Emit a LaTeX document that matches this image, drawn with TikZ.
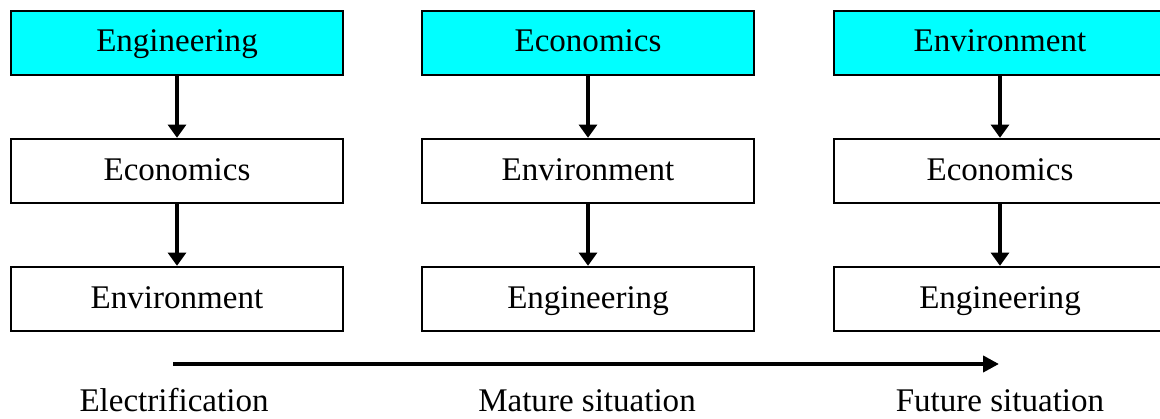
\documentclass[tikz,border=0pt]{standalone}
\usepackage{fontspec}
\setmainfont{Liberation Serif}
\usetikzlibrary{arrows.meta}
\definecolor{boxcyan}{RGB}{0,255,255}

\begin{document}
\begin{tikzpicture}[x=0.025cm,y=-0.025cm,
  box/.style={draw=black,line width=1.7pt,minimum width=8.3cm,minimum height=1.6cm,
    inner sep=0pt,text height=0.6cm,text depth=0.15cm,font=\fontsize{23.5}{28}\selectfont},
  topbox/.style={box,fill=boxcyan},
  wide/.style={minimum width=8.6cm,execute at begin node={\hspace*{-0.3cm}}},
  flow/.style={line width=2.2pt,-{Triangle[length=0.33cm,width=0.45cm]}},
  time/.style={line width=2.8pt,-{Triangle[length=0.4cm,width=0.4cm]}},
  stage/.style={font=\fontsize{23.5}{28}\selectfont,anchor=base}]
\useasboundingbox (0,0) rectangle (1160,419);
\clip (0,0) rectangle (1160,419);
\node[topbox] (a1) at (177,43) {Engineering};
\node[box] (a2) at (177,171) {Economics};
\node[box] (a3) at (177,299) {Environment};
\node[topbox] (b1) at (588,43) {Economics};
\node[box] (b2) at (588,171) {Environment};
\node[box] (b3) at (588,299) {Engineering};
\node[topbox,wide] (c1) at (1006,43) {Environment};
\node[box,wide] (c2) at (1006,171) {Economics};
\node[box,wide] (c3) at (1006,299) {Engineering};
\draw[flow] (a1) -- (a2);
\draw[flow] (a2) -- (a3);
\draw[flow] (b1) -- (b2);
\draw[flow] (b2) -- (b3);
\draw[flow] ([xshift=-0.15cm]c1.south) -- ([xshift=-0.15cm]c2.north);
\draw[flow] ([xshift=-0.15cm]c2.south) -- ([xshift=-0.15cm]c3.north);
\coordinate (t0) at (173,364);
\coordinate (t1) at (999,364);
\draw[time] (t0) -- (t1);
\node[stage] (s1) at (174,412) {Electrification};
\node[stage] (s2) at (587,412) {Mature situation};
\node[stage] (s3) at (1000,412) {Future situation};
\end{tikzpicture}
\end{document}
